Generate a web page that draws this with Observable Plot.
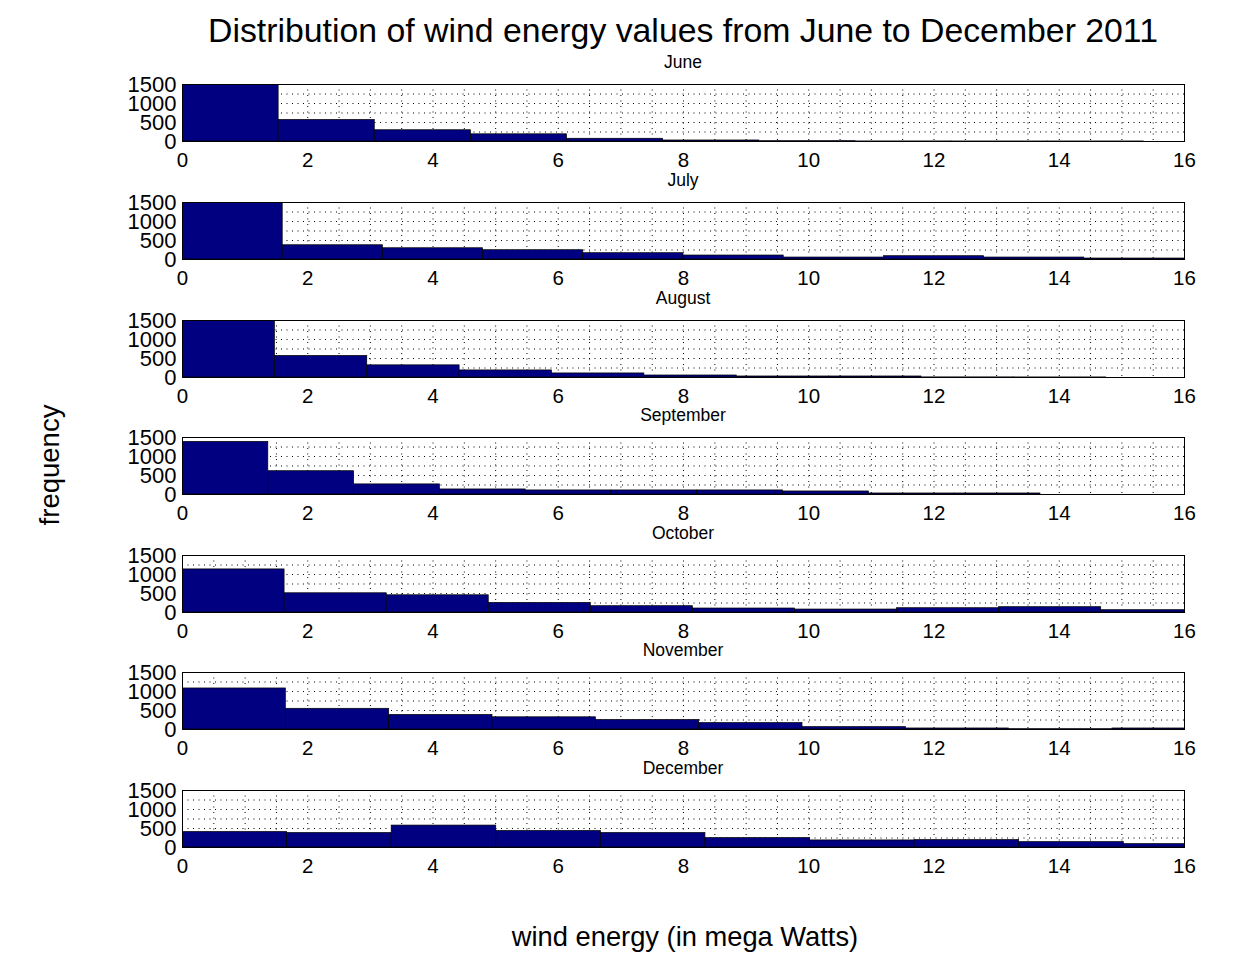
<!DOCTYPE html>
<html>
<head>
<meta charset="utf-8">
<script src="https://cdn.jsdelivr.net/npm/d3@7"></script>
<script src="https://cdn.jsdelivr.net/npm/@observablehq/plot@0.6"></script>
<style>
  body { margin: 0; background: #fff; }
  #chart { position: relative; width: 1259px; height: 964px; background: #fff; font-family: "Liberation Sans", Arial, sans-serif; color: #000; overflow: hidden; }
  .abs { position: absolute; white-space: nowrap; }
  .panel { position: absolute; left: 0; }
</style>
</head>
<body>
<div id="chart"></div>
<script>
// ---- data ----
const months = ["June", "July", "August", "September", "October", "November", "December"];
// histogram range (min, max) of each month, 10 equal bins
const binMin = [0, 0, 0, 0, 0, 0, 0];
const binMax = [15.35, 16.0, 14.75, 13.7, 16.3, 16.5, 16.7];
const juneCounts      = [1500, 566, 296, 189, 72, 27, 9, 2, 1, 1];
const julyCounts      = [1500, 375, 296, 244, 166, 105, 52, 87, 52, 26];
const augustCounts    = [1500, 568, 320, 186, 107, 53, 27, 27, 3, 2];
const septemberCounts = [1385, 613, 266, 133, 107, 107, 107, 80, 27, 27];
const octoberCounts   = [1134, 506, 453, 253, 166, 105, 78, 113, 140, 61];
const novemberCounts  = [1080, 545, 384, 321, 250, 170, 63, 27, 9, 27];
const decemberCounts  = [408, 382, 577, 435, 382, 249, 186, 195, 142, 89];
const xTicks = [0, 2, 4, 6, 8, 10, 12, 14, 16];
const yTicks = [0, 500, 1000, 1500];

const title = "Distribution of wind energy values from June to December 2011";
const xLabel = "wind energy (in mega Watts)";
const yLabel = "frequency";

const allCounts = [juneCounts, julyCounts, augustCounts, septemberCounts, octoberCounts, novemberCounts, decemberCounts];

// ---- layout ----
const chart = document.getElementById("chart");
const W = 1259;
const mL = 182, mR = 75;
const panelH = 57;
const padTop = 14, padBottom = 34;
const panelTops = [84, 202, 320, 437, 555, 672, 790];

function addText(txt, x, y, size, extra = "") {
  const d = document.createElement("div");
  d.className = "abs";
  d.textContent = txt;
  d.style.cssText += `left:${x}px;top:${y}px;font-size:${size}px;transform:translate(-50%,-50%) ${extra};`;
  chart.appendChild(d);
  return d;
}

addText(title, 683, 30, 33.8);
addText(xLabel, 685, 937, 27.3);
addText(yLabel, 50, 465, 27.5, "rotate(-90deg)");

const minorX = d3.range(0.5, 16, 0.5);
const minorY = [250, 500, 750, 1000, 1250];

months.forEach((m, i) => {
  const counts = allCounts[i];
  const w = (binMax[i] - binMin[i]) / counts.length;
  const bins = counts.map((c, k) => ({x1: binMin[i] + k * w, x2: binMin[i] + (k + 1) * w, count: c}));

  addText(m, 683, panelTops[i] - 22, 17.5);

  const svg = Plot.plot({
    width: W,
    height: padTop + panelH + padBottom,
    marginLeft: mL,
    marginRight: mR,
    marginTop: padTop,
    marginBottom: padBottom,
    style: {fontFamily: '"Liberation Sans", Arial, sans-serif', fontSize: "20px", color: "#000", background: "transparent", overflow: "visible"},
    x: {domain: [0, 16]},
    y: {domain: [0, 1500]},
    marks: [
      Plot.ruleX(minorX, {stroke: "#000", strokeWidth: 1, strokeDasharray: "1,4.5"}),
      Plot.ruleY(minorY, {stroke: "#000", strokeWidth: 1, strokeDasharray: "1,4.5"}),
      Plot.rectY(bins, {x1: "x1", x2: "x2", y: "count", fill: "#000080", stroke: "#000", strokeWidth: 0.7, clip: true}),
      Plot.frame({stroke: "#000", strokeWidth: 1}),
      Plot.axisX(xTicks, {tickSize: 0, tickPadding: 11, label: null, fontSize: 20.5, tickFormat: d => String(d)}),
      Plot.axisY(yTicks, {tickSize: 0, tickPadding: 6, label: null, fontSize: 22, tickFormat: d => String(d)})
    ]
  });
  svg.classList.add("panel");
  svg.style.top = (panelTops[i] - padTop) + "px";
  chart.appendChild(svg);
});
</script>
</body>
</html>
